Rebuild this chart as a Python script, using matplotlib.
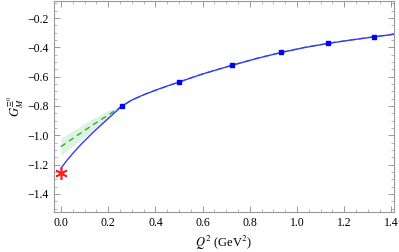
import matplotlib
matplotlib.use("Agg")
import matplotlib.pyplot as plt
from matplotlib.ticker import MultipleLocator, FuncFormatter

plt.rcParams['font.family'] = ['Liberation Serif', 'DejaVu Serif']
plt.rcParams['mathtext.fontset'] = 'stix'

# lattice-like data points
q2_pts = [0.259, 0.499, 0.724, 0.934, 1.133, 1.325]
g_pts = [-0.800, -0.637, -0.521, -0.429, -0.373, -0.328]

# experimental value at Q^2 = 0
q2_exp = [0.0]
g_exp = [-1.258]

# blue fit curve
q2_blue = [0.0, 0.02, 0.045, 0.0875, 0.13, 0.172, 0.214, 0.259,
           0.3, 0.35, 0.4, 0.45, 0.5, 0.55, 0.6, 0.724, 0.83, 0.934,
           1.03, 1.133, 1.23, 1.325, 1.41]
g_blue = [-1.226, -1.182, -1.133, -1.058, -0.990, -0.927, -0.865, -0.800,
          -0.760, -0.724, -0.693, -0.664, -0.637, -0.609, -0.582, -0.523, -0.476, -0.435,
          -0.402, -0.373, -0.350, -0.329, -0.311]

# green dashed curve + band
q2_green = [0.0, 0.065, 0.13, 0.2, 0.259, 0.3, 0.35, 0.4, 0.5, 0.6, 0.724,
            0.83, 0.934, 1.03, 1.133, 1.23, 1.325, 1.41]
g_green = [-1.078, -1.005, -0.935, -0.862, -0.800, -0.760, -0.724, -0.693, -0.637,
           -0.582, -0.522, -0.475, -0.434, -0.401, -0.372, -0.349, -0.328, -0.310]
q2_band = [0.0, 0.065, 0.13, 0.2, 0.259]
g_band_lo = [-1.135, -1.055, -0.976, -0.885, -0.803]
g_band_hi = [-1.02, -0.955, -0.891, -0.830, -0.797]

fig = plt.figure(figsize=(3.99, 2.52), dpi=100)
ax = fig.add_axes([0.135, 0.159, 0.852, 0.837])

ax.fill_between(q2_band, g_band_lo, g_band_hi, color='#7fd37f', alpha=0.25, lw=0)
ax.plot(q2_green, g_green, color='#33aa33', lw=1.0, ls=(0, (4, 3)))
ax.plot(q2_blue, g_blue, color='#3838ff', lw=1.0)
ax.plot(q2_pts, g_pts, ls='none', marker='s', ms=3.5, color='#0000ff')
ax.plot(q2_exp, g_exp, ls='none', marker=(6, 2, 0), ms=9, mew=1.2, color='#ff2020', clip_on=False)

ax.set_xlim(-0.03, 1.41)
ax.set_ylim(-1.523, -0.084)
ax.xaxis.set_major_locator(MultipleLocator(0.2))
ax.xaxis.set_minor_locator(MultipleLocator(0.05))
ax.yaxis.set_major_locator(MultipleLocator(0.2))
ax.yaxis.set_minor_locator(MultipleLocator(0.05))
ax.xaxis.set_major_formatter(FuncFormatter(lambda v, p: f"{v:.1f}"))
ax.yaxis.set_major_formatter(FuncFormatter(lambda v, p: f"\u2212{abs(v):.1f}" if v < 0 else f"{v:.1f}"))

for s in ax.spines.values():
    s.set_color('#999999')
    s.set_linewidth(0.8)
ax.tick_params(which='both', direction='in', top=True, right=True, color='#999999', labelsize=8.5)
ax.tick_params(which='major', length=4, width=0.7)
ax.tick_params(which='minor', length=2, width=0.5)

ax.set_xlabel(r'$Q^2$ (GeV$^2$)', fontsize=9)
ax.set_ylabel(r'$G_M^{\Xi^0}$', fontsize=9, labelpad=1)

fig.savefig('out.png', dpi=100)
